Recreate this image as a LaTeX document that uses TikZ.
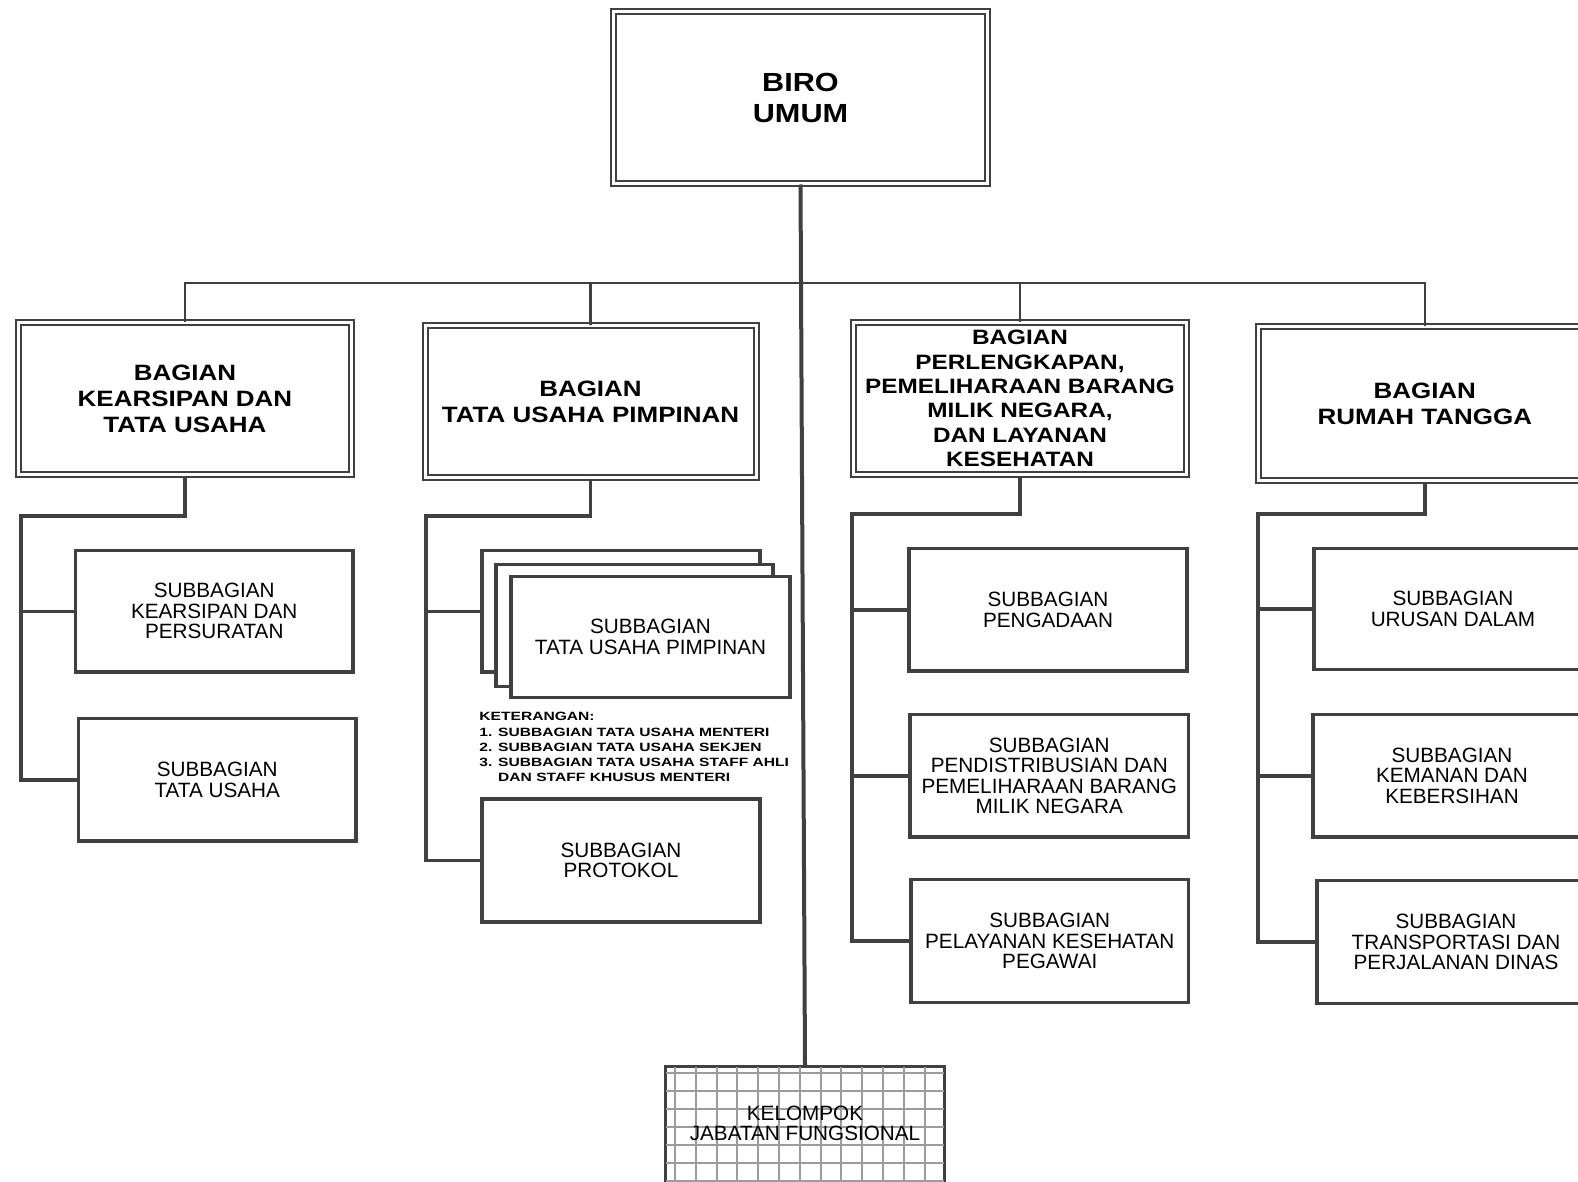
\documentclass[tikz,border=0pt]{standalone}
\usepackage{fontspec}
\setmainfont{Liberation Sans}
\newfontfamily\hfont[FakeStretch=1.17]{Liberation Sans}
\newfontfamily\kfont[FakeStretch=1.3]{Liberation Sans}
\definecolor{lc}{HTML}{404040}
\definecolor{gc}{HTML}{9C9C9C}
\newcommand\fs{\fontsize{10.35pt}{10.25pt}\selectfont}
\newcommand\fb{\hfont\bfseries\fontsize{11.1pt}{13pt}\selectfont}
\newcommand\fbs{\hfont\bfseries\fontsize{10.4pt}{12.2pt}\selectfont}
\newcommand\fbig{\hfont\bfseries\fontsize{13.1pt}{15.5pt}\selectfont}
\newcommand\fk{\kfont\bfseries\fontsize{6pt}{7.65pt}\selectfont}
\newcommand\mkbox[7]{%
  \pgfmathsetmacro\mkcx{(#3+#5)/2}%
  \pgfmathsetmacro\mkcy{(#4+#6)/2}%
  \pgfmathsetmacro\mkw{(#5-#3)/2}%
  \pgfmathsetmacro\mkh{(#6-#4)/2}%
  \node[#1, minimum width=\mkw pt, minimum height=\mkh pt] (#2) at (\mkcx,\mkcy) {#7};}
\tikzset{
  ln/.style={draw=lc, line width=1.75pt},
  busln/.style={draw=lc, line width=1.25pt},
  trunk/.style={draw=lc, line width=2pt},
  subbox/.style={draw=lc, line width=1.6pt, fill=white, inner sep=0pt, align=center, font=\fs},
  bagbox/.style={draw=lc, line width=1pt, double=white, double distance=1.5pt, fill=white, inner sep=0pt, align=center, font=\fb},
  gridln/.style={draw=gc, line width=1pt},
}
\begin{document}
\begin{tikzpicture}[x=0.5pt, y=-0.5pt]
\useasboundingbox (0,0) rectangle (1578,1182);
\clip (0,0) rectangle (1578,1182);
\fill[white] (0,0) rectangle (1578,1182);

% top and bagian boxes
\mkbox{bagbox, font=\fbig}{biro}{613.5}{11.5}{987.5}{183.5}{BIRO\\UMUM}
\mkbox{bagbox}{b1}{18.5}{322.5}{351.5}{474.5}{BAGIAN\\KEARSIPAN DAN\\TATA USAHA}
\mkbox{bagbox}{b2}{425}{325.5}{756}{477.5}{BAGIAN\\TATA USAHA PIMPINAN}
\mkbox{bagbox, font=\fbs}{b3}{853.5}{322.5}{1186.5}{474.5}{BAGIAN\\PERLENGKAPAN,\\PEMELIHARAAN BARANG\\MILIK NEGARA,\\DAN LAYANAN\\KESEHATAN}
\mkbox{bagbox}{b4}{1258.5}{326.5}{1591}{480.5}{BAGIAN\\RUMAH TANGGA}

% subbagian boxes
\mkbox{subbox}{sA}{75.5}{550.5}{353}{672}{SUBBAGIAN\\KEARSIPAN DAN\\PERSURATAN}
\mkbox{subbox}{sB}{78.5}{718.5}{356}{841}{SUBBAGIAN\\TATA USAHA}

\mkbox{subbox}{t1}{482}{550.5}{760}{672}{}
\mkbox{subbox}{t2}{496}{564.5}{773}{686.5}{}
\mkbox{subbox}{t3}{511}{576.5}{790}{697.5}{SUBBAGIAN\\TATA USAHA PIMPINAN}
\mkbox{subbox}{prot}{482}{799}{760}{922}{SUBBAGIAN\\PROTOKOL}

\mkbox{subbox}{p1}{909}{548.5}{1187}{671}{SUBBAGIAN\\PENGADAAN}
\mkbox{subbox}{p2}{910}{714.5}{1188.5}{837}{SUBBAGIAN\\PENDISTRIBUSIAN DAN\\PEMELIHARAAN BARANG\\MILIK NEGARA}
\mkbox{subbox}{p3}{911}{879.5}{1188.5}{1002.5}{SUBBAGIAN\\PELAYANAN KESEHATAN\\PEGAWAI}

\mkbox{subbox}{r1}{1314}{548.5}{1592}{669.5}{SUBBAGIAN\\URUSAN DALAM}
\mkbox{subbox}{r2}{1313}{714.5}{1591}{837}{SUBBAGIAN\\KEMANAN DAN\\KEBERSIHAN}
\mkbox{subbox}{r3}{1317}{880.5}{1595}{1003.5}{SUBBAGIAN\\TRANSPORTASI DAN\\PERJALANAN DINAS}

% keterangan
\node[anchor=north west, inner sep=0pt, align=left, font=\fk] (ket) at (479,712)
  {KETERANGAN:\\1. SUBBAGIAN TATA USAHA MENTERI\\2. SUBBAGIAN TATA USAHA SEKJEN\\3. SUBBAGIAN TATA USAHA STAFF AHLI\\\phantom{3. }DAN STAFF KHUSUS MENTERI};

% kelompok jabatan fungsional
\mkbox{subbox, line width=1.2pt}{kjf}{666}{1067}{944}{1200}{}
\begin{scope}
  \clip (kjf.south west) rectangle (kjf.north east);
  \foreach \i in {0,...,13} \draw[gridln] (675+\i*20.8,1060) -- (675+\i*20.8,1210);
  \foreach \j in {0,...,7} \draw[gridln] (660,1073.3+\j*18) -- (950,1073.3+\j*18);
\end{scope}
\draw[draw=lc, line width=1.2pt] (kjf.south west) rectangle (kjf.north east);
\node[align=center, inner sep=0pt, font=\fs] (kjft) at (805,1123.5) {KELOMPOK\\JABATAN FUNGSIONAL};

% bus and trunk
\coordinate (busy) at (0,283);
\draw[busln] (b1.north) -- (b1.north |- busy) -- (b4.north |- busy) -- (b4.north);
\draw[busln] (b2.north) -- (b2.north |- busy);
\draw[busln] (b3.north) -- (b3.north |- busy);
\draw[trunk] (biro.south) -- (kjf.north);

% group connectors
\coordinate (c1) at (21,516);
\draw[ln] (b1.south) |- (c1) -- (c1 |- sB.west) -- (sB.west);
\draw[ln] (c1 |- sA.west) -- (sA.west);

\coordinate (c2) at (426,516);
\draw[ln] (b2.south) |- (c2) -- (c2 |- prot.west) -- (prot.west);
\draw[ln] (c2 |- t1.west) -- (t1.west);

\coordinate (c3) at (852,514);
\draw[ln] (b3.south) |- (c3) -- (c3 |- p3.west) -- (p3.west);
\draw[ln] (c3 |- p1.west) -- (p1.west);
\draw[ln] (c3 |- p2.west) -- (p2.west);

\coordinate (c4) at (1258,514);
\draw[ln] (b4.south) |- (c4) -- (c4 |- r3.west) -- (r3.west);
\draw[ln] (c4 |- r1.west) -- (r1.west);
\draw[ln] (c4 |- r2.west) -- (r2.west);
\end{tikzpicture}
\end{document}
